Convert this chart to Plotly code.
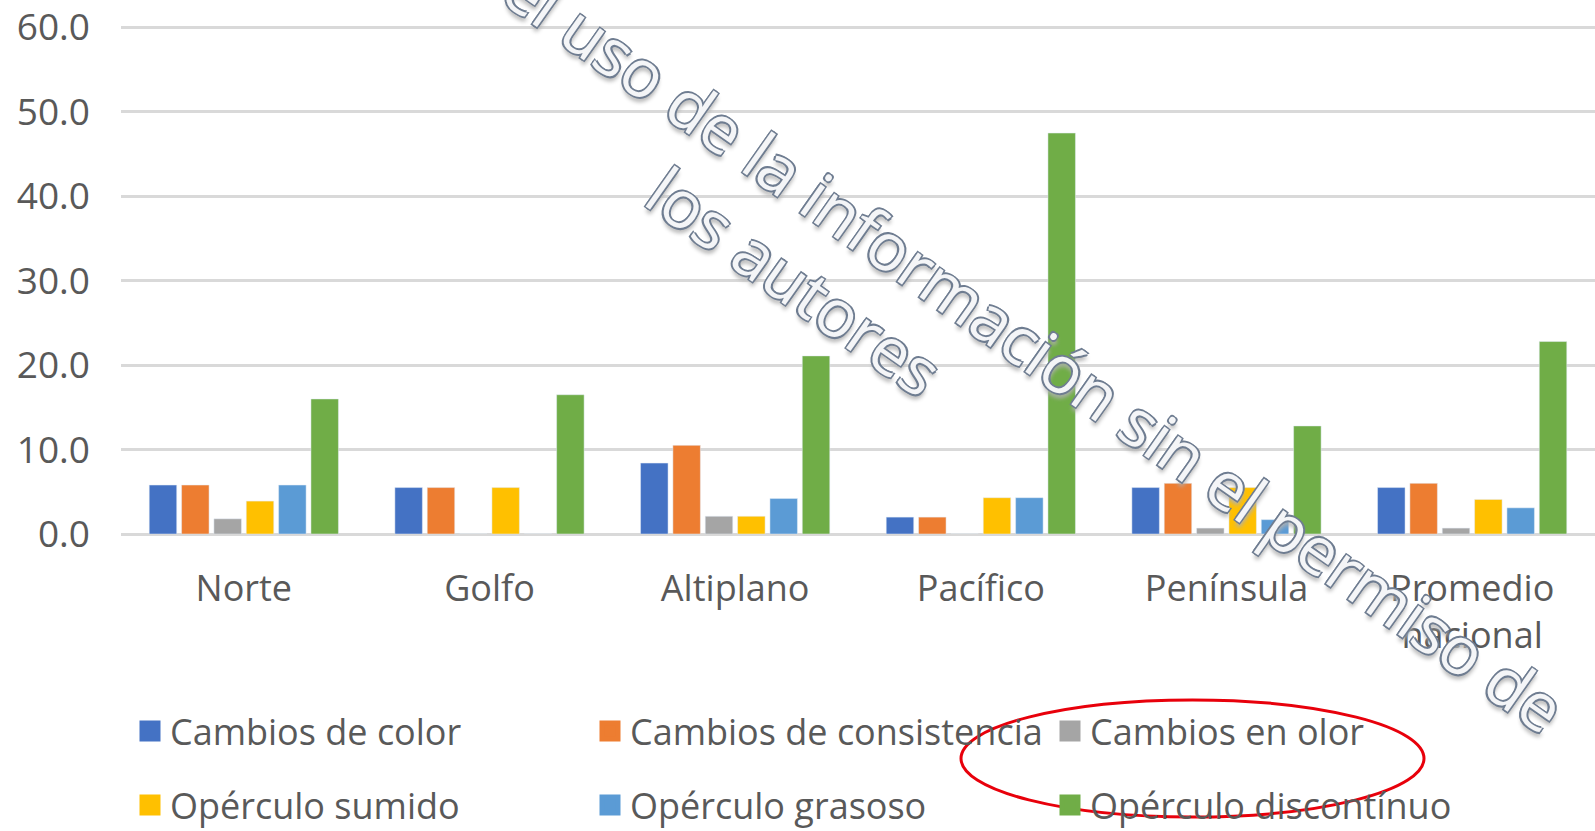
import plotly.graph_objects as go

categories = ["Norte", "Golfo", "Altiplano", "Pacífico", "Península", "Promedio<br>nacional"]
series_names = ["Cambios de color", "Cambios de consistencia", "Cambios en olor",
                "Opérculo sumido", "Opérculo grasoso", "Opérculo discontínuo"]
cambios_color = [5.8, 5.5, 8.4, 2.0, 5.5, 5.5]
cambios_consistencia = [5.8, 5.5, 10.5, 2.0, 6.0, 6.0]
cambios_olor = [1.8, 0.0, 2.1, 0.0, 0.7, 0.7]
operculo_sumido = [3.9, 5.5, 2.1, 4.3, 5.5, 4.1]
operculo_grasoso = [5.8, 0.0, 4.2, 4.3, 1.7, 3.1]
operculo_discontinuo = [16.0, 16.5, 21.1, 47.5, 12.8, 22.8]
y_ticks = [0, 10, 20, 30, 40, 50, 60]
y_tick_labels = ["0.0", "10.0", "20.0", "30.0", "40.0", "50.0", "60.0"]
watermark_line1 = "Prohibido el uso de la información sin el permiso de"
watermark_line2 = "los autores"

series_values = [cambios_color, cambios_consistencia, cambios_olor,
                 operculo_sumido, operculo_grasoso, operculo_discontinuo]
colors = ["#4472C4", "#ED7D31", "#A5A5A5", "#FFC000", "#5B9BD5", "#70AD47"]

W, H = 1595, 831
ML, MR, MT, MB = 121, 0, 25, 297
PW, PH = W - ML - MR, H - MT - MB
def px(x):
    return (x - ML) / PW
def py(y):
    return (H - MB - y) / PH

TXT = "#595959"
FONT = "Open Sans"

fig = go.Figure()
for i, (name, vals, col) in enumerate(zip(series_names, series_values, colors)):
    fig.add_trace(go.Bar(x=categories, y=vals, name=name, marker_color=col,
                         showlegend=False))
# legend entries with larger square swatches
for i, (name, col) in enumerate(zip(series_names, colors)):
    fig.add_trace(go.Scatter(
        x=[None], y=[None], mode="markers", name=name,
        marker=dict(symbol="square", size=16, color=col,
                    line=dict(color=col, width=5)),
        legend="legend" if i < 3 else "legend2", showlegend=True,
    ))

leg_common = dict(orientation="h", font=dict(family=FONT, size=36, color=TXT),
                  bgcolor="rgba(0,0,0,0)", entrywidth=415, entrywidthmode="pixels",
                  xanchor="left", yanchor="middle", itemclick=False,
                  itemdoubleclick=False)

fig.update_layout(
    width=W, height=H,
    margin=dict(l=ML, r=MR, t=MT, b=MB, autoexpand=False),
    paper_bgcolor="white", plot_bgcolor="white",
    barmode="group", bargap=0.21, bargroupgap=0.15,
    showlegend=True,
    legend=dict(x=px(130), y=py(731), **leg_common),
    legend2=dict(x=px(130), y=py(805), **leg_common),
    font=dict(family=FONT, color=TXT),
    xaxis=dict(showgrid=False, showline=False, ticks="", zeroline=False,
               tickfont=dict(family=FONT, size=36, color=TXT),
               ticklabelstandoff=30),
    yaxis=dict(range=[0, 60.3], tickvals=y_ticks, ticktext=y_tick_labels,
               showgrid=True, gridcolor="#d9d9d9", gridwidth=2.5,
               zeroline=True, zerolinecolor="#d9d9d9", zerolinewidth=2.5,
               showline=False, ticks="", ticklabeloverflow="allow",
               tickfont=dict(family=FONT, size=37, color=TXT),
               ticklabelstandoff=30),
)

# watermark (two rotated lines)
outline = "#6f7d91"
wm_font = dict(family=FONT, size=66, color="#f4f5f7",
               shadow=f"-1.5px -1.5px 0 {outline}, 1.5px -1.5px 0 {outline}, "
                      f"-1.5px 1.5px 0 {outline}, 1.5px 1.5px 0 {outline}, 3px 4px 4px #b0b0b0")
fig.add_annotation(xref="paper", yref="paper", x=px(905), y=py(255),
                   xanchor="center", yanchor="middle", text=watermark_line1,
                   textangle=35.2, showarrow=False, font=wm_font)
fig.add_annotation(xref="paper", yref="paper", x=px(795), y=py(280),
                   xanchor="center", yanchor="middle", text=watermark_line2,
                   textangle=35.2, showarrow=False, font=wm_font)

# red ellipse
fig.add_shape(type="circle", xref="paper", yref="paper",
              x0=px(961), x1=px(1424), y0=py(700), y1=py(817),
              line=dict(color="#e8000b", width=3), layer="above")

fig.write_html("out.html", config={"displayModeBar": False},
               post_script="document.body.style.margin='0px';")
